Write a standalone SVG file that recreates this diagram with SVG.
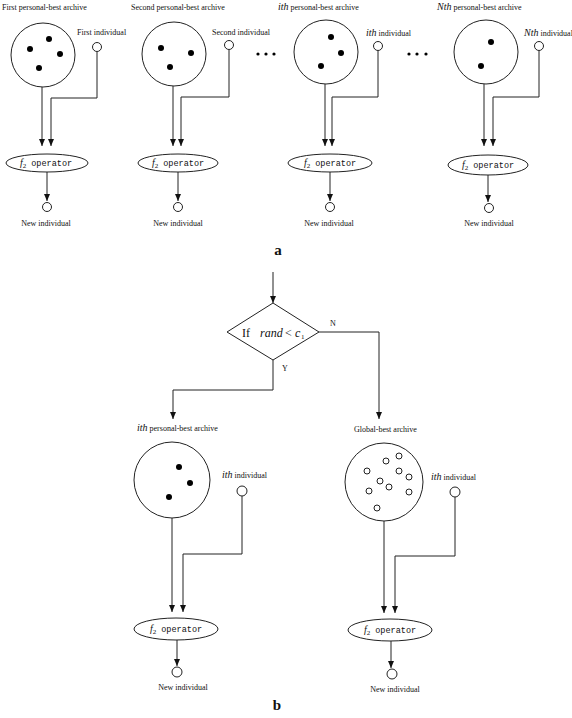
<svg xmlns="http://www.w3.org/2000/svg" width="572" height="718" viewBox="0 0 572 718">
<style>
.bg{fill:#fff}
.ln{fill:none;stroke:#222;stroke-width:1}
.arr{fill:none;stroke:#222;stroke-width:1;marker-end:url(#ah)}
.sh{fill:#fff;stroke:#222;stroke-width:1}
.dot{fill:#000}
.oc{fill:#fff;stroke:#222;stroke-width:1}
.t{font-family:"Liberation Serif",serif;font-size:8px;fill:#111}
.ti{font-family:"Liberation Serif",serif;font-size:10px;font-style:italic;fill:#111}
.mono{font-family:"Liberation Mono",monospace;font-size:8.5px;fill:#111}
.fi{font-family:"Liberation Serif",serif;font-size:10px;font-style:italic;fill:#111}
.sub{font-family:"Liberation Serif",serif;font-size:7px;fill:#111}
.big{font-family:"Liberation Serif",serif;font-size:15px;font-weight:bold;fill:#111}
.cond{font-family:"Liberation Serif",serif;font-size:12px;fill:#111}
</style>
<defs>
<marker id="ah" markerUnits="userSpaceOnUse" markerWidth="8" markerHeight="6" refX="7" refY="3" orient="auto">
<path d="M0,0 L7,3 L0,6 z" fill="#111"/>
</marker>
</defs>
<rect class="bg" x="0" y="0" width="572" height="718"/>

<g id="connectors">
<!-- panel a col1 -->
<path class="arr" d="M42,87 V146"/>
<path class="arr" d="M97,52 V98 H51 V146"/>
<path class="arr" d="M47,172 V201"/>
<!-- col2 -->
<path class="arr" d="M173,86 V146"/>
<path class="arr" d="M229,50 V97 H181 V146"/>
<path class="arr" d="M178,172 V201"/>
<!-- col3 -->
<path class="arr" d="M325,84 V146"/>
<path class="arr" d="M378,51 V97 H332 V146"/>
<path class="arr" d="M330,172 V201"/>
<!-- col4 -->
<path class="arr" d="M484,84 V146"/>
<path class="arr" d="M539,51 V97 H493 V146"/>
<path class="arr" d="M488,175 V202"/>
<!-- panel b -->
<path class="arr" d="M273,272 V303"/>
<path class="arr" d="M319,332 H379 V419"/>
<path class="arr" d="M273,360 V390 H173 V419"/>
<path class="arr" d="M172,518 V612"/>
<path class="arr" d="M242,496 V554 H183 V612"/>
<path class="arr" d="M177,640 V666"/>
<path class="arr" d="M384,521 V613"/>
<path class="arr" d="M455,497 V556 H395 V613"/>
<path class="arr" d="M391,641 V668"/>
</g>

<!-- ===== Panel a ===== -->
<g id="archive1">
<text class="t" x="2" y="10">First personal-best archive</text>
<circle class="sh" cx="43" cy="55" r="32"/>
<circle class="dot" cx="49" cy="39" r="3"/>
<circle class="dot" cx="30" cy="49" r="3"/>
<circle class="dot" cx="60" cy="54" r="3"/>
<circle class="dot" cx="39" cy="68" r="3"/>
</g>
<g id="indiv1">
<text class="t" x="77" y="35">First individual</text>
<circle class="oc" cx="97" cy="47" r="4.5"/>
</g>
<g id="op1">
<ellipse class="sh" cx="47" cy="163" rx="41" ry="9"/>
<text x="46" y="166" text-anchor="middle"><tspan class="fi">f</tspan><tspan class="sub" dy="2">2</tspan><tspan class="mono" dy="-2">  operator</tspan></text>
</g>
<g id="new1">
<circle class="oc" cx="47" cy="207" r="4.5"/>
<text class="t" x="46" y="226" text-anchor="middle">New individual</text>
</g>

<g id="archive2">
<text class="t" x="131" y="10">Second personal-best archive</text>
<circle class="sh" cx="174" cy="54" r="32"/>
<circle class="dot" cx="161" cy="48" r="3"/>
<circle class="dot" cx="191" cy="53" r="3"/>
<circle class="dot" cx="170" cy="67" r="3"/>
</g>
<g id="indiv2">
<text class="t" x="212" y="35">Second individual</text>
<circle class="oc" cx="229" cy="45" r="4.5"/>
</g>
<g id="op2">
<ellipse class="sh" cx="178" cy="163" rx="40" ry="9"/>
<text x="178" y="166" text-anchor="middle"><tspan class="fi">f</tspan><tspan class="sub" dy="2">2</tspan><tspan class="mono" dy="-2">  operator</tspan></text>
</g>
<g id="new2">
<circle class="oc" cx="178" cy="207" r="4.5"/>
<text class="t" x="178" y="226" text-anchor="middle">New individual</text>
</g>

<g id="ellipsis1">
<circle class="dot" cx="258" cy="54" r="1.6"/>
<circle class="dot" cx="266" cy="54" r="1.6"/>
<circle class="dot" cx="274" cy="54" r="1.6"/>
</g>

<g id="archive3">
<text class="t" x="278" y="10"><tspan class="ti">ith</tspan> personal-best archive</text>
<circle class="sh" cx="326" cy="52" r="32"/>
<circle class="dot" cx="331" cy="37" r="3"/>
<circle class="dot" cx="341" cy="53" r="3"/>
<circle class="dot" cx="321" cy="66" r="3"/>
</g>
<g id="indiv3">
<text class="t" x="366" y="36"><tspan class="ti">ith</tspan> individual</text>
<circle class="oc" cx="378" cy="46" r="4.5"/>
</g>
<g id="op3">
<ellipse class="sh" cx="330" cy="163" rx="42" ry="9"/>
<text x="330" y="166" text-anchor="middle"><tspan class="fi">f</tspan><tspan class="sub" dy="2">2</tspan><tspan class="mono" dy="-2">  operator</tspan></text>
</g>
<g id="new3">
<circle class="oc" cx="330" cy="207" r="4.5"/>
<text class="t" x="329" y="226" text-anchor="middle">New individual</text>
</g>

<g id="ellipsis2">
<circle class="dot" cx="409" cy="54" r="1.6"/>
<circle class="dot" cx="417" cy="54" r="1.6"/>
<circle class="dot" cx="426" cy="54" r="1.6"/>
</g>

<g id="archive4">
<text class="t" x="437" y="10"><tspan class="ti">Nth</tspan>  personal-best archive</text>
<circle class="sh" cx="486" cy="52" r="32"/>
<circle class="dot" cx="491" cy="42" r="3"/>
<circle class="dot" cx="481" cy="66" r="3"/>
</g>
<g id="indiv4">
<text class="t" x="524" y="36"><tspan class="ti">Nth</tspan> individual</text>
<circle class="oc" cx="539" cy="46" r="4.5"/>
</g>
<g id="op4">
<ellipse class="sh" cx="488" cy="165" rx="40" ry="10"/>
<text x="488" y="168" text-anchor="middle"><tspan class="fi">f</tspan><tspan class="sub" dy="2">2</tspan><tspan class="mono" dy="-2">  operator</tspan></text>
</g>
<g id="new4">
<circle class="oc" cx="489" cy="208" r="4.5"/>
<text class="t" x="489" y="226" text-anchor="middle">New individual</text>
</g>

<text class="big" x="278" y="255" text-anchor="middle">a</text>

<!-- ===== Panel b ===== -->
<g id="decision">
<polygon class="sh" points="273,303 319,332 273,360 227,332"/>
<text class="cond" x="242" y="337">If</text>
<text class="cond" x="260" y="337" font-style="italic">rand</text>
<text class="cond" x="285" y="337">&lt;</text>
<text class="cond" x="295" y="337" font-style="italic">c</text>
<text class="sub" x="301" y="339">1</text>
</g>
<text class="t" x="330" y="326">N</text>
<text class="t" x="282" y="371">Y</text>

<g id="archiveB">
<text class="t" x="137" y="431"><tspan class="ti">ith</tspan> personal-best archive</text>
<circle class="sh" cx="172" cy="480" r="38"/>
<circle class="dot" cx="179" cy="467" r="3"/>
<circle class="dot" cx="190" cy="483" r="3"/>
<circle class="dot" cx="169" cy="497" r="3"/>
</g>
<g id="indivB1">
<text class="t" x="222" y="478"><tspan class="ti">ith</tspan> individual</text>
<circle class="oc" cx="242" cy="491" r="5"/>
</g>
<g id="opB1">
<ellipse class="sh" cx="176" cy="629" rx="42" ry="11"/>
<text x="176" y="632" text-anchor="middle"><tspan class="fi">f</tspan><tspan class="sub" dy="2">2</tspan><tspan class="mono" dy="-2">  operator</tspan></text>
</g>
<g id="newB1">
<circle class="oc" cx="177" cy="672" r="5"/>
<text class="t" x="183" y="690" text-anchor="middle">New individual</text>
</g>

<g id="globalArchive">
<text class="t" x="354" y="432">Global-best archive</text>
<circle class="sh" cx="384" cy="482" r="39"/>
<circle class="oc" cx="399" cy="456" r="3"/>
<circle class="oc" cx="386" cy="461" r="3"/>
<circle class="oc" cx="367" cy="471" r="3"/>
<circle class="oc" cx="399" cy="471" r="3"/>
<circle class="oc" cx="409" cy="477" r="3"/>
<circle class="oc" cx="380" cy="481" r="3"/>
<circle class="oc" cx="389" cy="487" r="3"/>
<circle class="oc" cx="369" cy="491" r="3"/>
<circle class="oc" cx="409" cy="492" r="3"/>
<circle class="oc" cx="377" cy="508" r="3"/>
</g>
<g id="indivB2">
<text class="t" x="431" y="480"><tspan class="ti">ith</tspan> individual</text>
<circle class="oc" cx="455" cy="492" r="5"/>
</g>
<g id="opB2">
<ellipse class="sh" cx="390" cy="630" rx="42" ry="11"/>
<text x="390" y="633" text-anchor="middle"><tspan class="fi">f</tspan><tspan class="sub" dy="2">2</tspan><tspan class="mono" dy="-2">  operator</tspan></text>
</g>
<g id="newB2">
<circle class="oc" cx="392" cy="674" r="5"/>
<text class="t" x="395" y="692" text-anchor="middle">New individual</text>
</g>

<text class="big" x="277" y="710" text-anchor="middle">b</text>
</svg>
